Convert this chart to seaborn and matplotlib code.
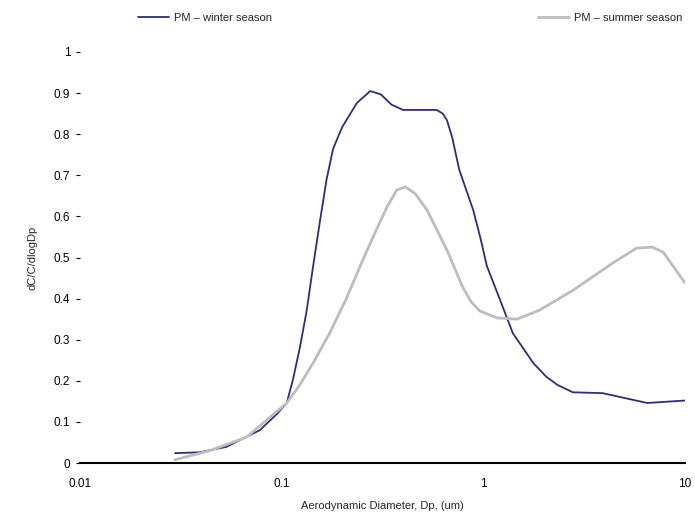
import matplotlib
matplotlib.use("Agg")
import matplotlib.pyplot as plt
import seaborn as sns
import pandas as pd
from matplotlib.ticker import FixedLocator, FixedFormatter, NullLocator

winter_x = [0.0296, 0.039, 0.053, 0.078, 0.095, 0.106, 0.114, 0.123, 0.133, 0.143,
            0.155, 0.167, 0.18, 0.20, 0.236, 0.275, 0.31, 0.35, 0.40, 0.587, 0.63, 0.66, 0.70, 0.76,
            0.89, 0.97, 1.04, 1.21, 1.4, 1.77, 2.05, 2.33, 2.78, 3.9, 6.5, 10.0]
winter_y = [0.024, 0.026, 0.039, 0.08, 0.12, 0.146, 0.205, 0.28, 0.37, 0.477,
            0.59, 0.69, 0.765, 0.818, 0.876, 0.905, 0.897, 0.872, 0.859, 0.859, 0.85, 0.834, 0.793, 0.713,
            0.616, 0.545, 0.48, 0.397, 0.316, 0.243, 0.21, 0.19, 0.172, 0.17, 0.146, 0.152]

summer_x = [0.0296, 0.044, 0.067, 0.106, 0.123, 0.143, 0.173, 0.211, 0.244, 0.284, 0.333, 0.372, 0.41,
            0.46, 0.525, 0.66, 0.79, 0.87, 0.96, 1.17, 1.47, 1.9, 2.78, 4.4, 5.76, 6.9, 7.8, 10.0]
summer_y = [0.008, 0.03, 0.063, 0.146, 0.19, 0.243, 0.316, 0.404, 0.477, 0.55, 0.623, 0.664, 0.672,
            0.655, 0.616, 0.518, 0.428, 0.392, 0.37, 0.353, 0.35, 0.372, 0.42, 0.487, 0.523, 0.525, 0.513, 0.438]

labels = ["PM \u2013 winter season", "PM \u2013 summer season"]
xticks = [0.01, 0.1, 1, 10]
xtick_labels = ["0.01", "0.1", "1", "10"]
yticks = [0, 0.1, 0.2, 0.3, 0.4, 0.5, 0.6, 0.7, 0.8, 0.9, 1]
ytick_labels = ["0", "0.1", "0.2", "0.3", "0.4", "0.5", "0.6", "0.7", "0.8", "0.9", "1"]

df = pd.concat([
    pd.DataFrame({"Dp": winter_x, "val": winter_y, "series": labels[0]}),
    pd.DataFrame({"Dp": summer_x, "val": summer_y, "series": labels[1]}),
], ignore_index=True)

sns.set_style("white")
plt.rcParams["font.family"] = ["Liberation Sans", "DejaVu Sans"]

fig = plt.figure(figsize=(6.95, 5.21), dpi=100)
ax = fig.add_axes([80/695, 1-463/521, (685-80)/695, (463-52)/521])

sns.lineplot(data=df, x="Dp", y="val", hue="series", sort=False,
             palette={labels[0]: "#2d2d7f", labels[1]: "#bdbdbd"},
             ax=ax, legend=False)
lines = ax.get_lines()
lines[0].set_linewidth(1.3)
lines[1].set_linewidth(2.0)
for ln in lines:
    ln.set_solid_joinstyle("round")

ax.set_xscale("log")
ax.set_xlim(0.01, 10)
ax.set_ylim(0, 1)
ax.xaxis.set_major_locator(FixedLocator(xticks))
ax.xaxis.set_major_formatter(FixedFormatter(xtick_labels))
ax.xaxis.set_minor_locator(NullLocator())
ax.yaxis.set_major_locator(FixedLocator(yticks))
ax.yaxis.set_major_formatter(FixedFormatter(ytick_labels))

for s in ["top", "right", "left"]:
    ax.spines[s].set_visible(False)
ax.spines["bottom"].set_color("black")
ax.spines["bottom"].set_linewidth(1.5)

ax.tick_params(axis="x", length=0, pad=11, labelsize=8.5, colors="black")
ax.tick_params(axis="y", left=True, length=3, width=0.8, pad=4, labelsize=8.5, colors="black", direction="out")

ax.set_xlabel("Aerodynamic Diameter, Dp, (um)", fontsize=8, labelpad=8)
ax.set_ylabel("dC/C/dlogDp", fontsize=8, labelpad=12)

handles = lines
leg = fig.legend(handles, labels, loc="center left", bbox_to_anchor=(138/695, 1-18/521),
                 ncol=2, frameon=False, fontsize=8, handlelength=2.8, handletextpad=0.4,
                 columnspacing=24, borderaxespad=0, borderpad=0)

fig.savefig("out.png", dpi=100)
